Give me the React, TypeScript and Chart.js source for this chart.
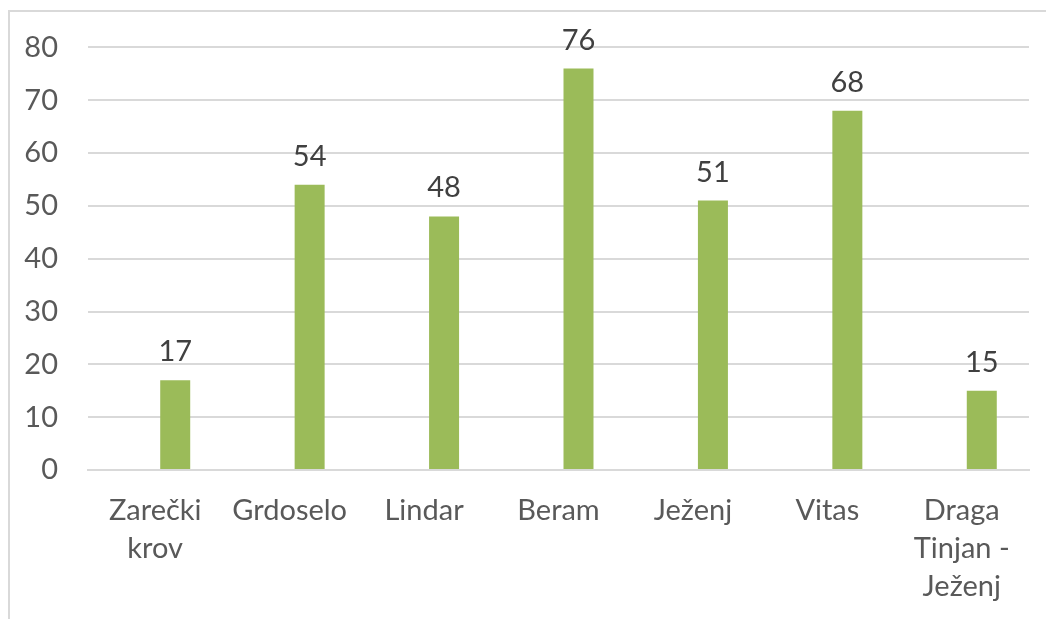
import React, { useEffect, useRef } from "react";
import { Chart, registerables } from "chart.js";

Chart.register(...registerables);

const categories: (string | string[])[] = [
  ["Zarečki", "krov"],
  "Grdoselo",
  "Lindar",
  "Beram",
  "Ježenj",
  "Vitas",
  ["Draga", "Tinjan -", "Ježenj"],
];
const emptySeries: (number | null)[] = [null, null, null, null, null, null, null];
const values: number[] = [17, 54, 48, 76, 51, 68, 15];
const yMin = 0;
const yMax = 80;
const yStep = 10;

const FONT = "Lato, 'Open Sans', sans-serif";
const FS = 29;

const dataLabelPlugin = {
  id: "dataLabels",
  afterDatasetsDraw(chart: any) {
    const ctx = chart.ctx;
    ctx.save();
    ctx.font = `${FS}px ${FONT}`;
    ctx.fillStyle = "#404040";
    ctx.textAlign = "center";
    ctx.textBaseline = "alphabetic";
    chart.data.datasets.forEach((ds: any, di: number) => {
      const meta = chart.getDatasetMeta(di);
      meta.data.forEach((el: any, i: number) => {
        const v = ds.data[i];
        if (v === null || v === undefined) return;
        ctx.fillText(String(v), el.x, el.y - 19);
      });
    });
    ctx.restore();
  },
};

export default function App() {
  const ref = useRef<HTMLCanvasElement>(null);
  useEffect(() => {
    if (!ref.current) return;
    const chart = new Chart(ref.current, {
      type: "bar",
      data: {
        labels: categories,
        datasets: [
          {
            data: emptySeries,
            backgroundColor: "#4F81BD",
            barPercentage: 0.75,
            categoryPercentage: 0.595,
          },
          {
            data: values,
            backgroundColor: "#9BBB59",
            barPercentage: 0.75,
            categoryPercentage: 0.595,
          },
        ],
      },
      options: {
        animation: false,
        responsive: false,
        maintainAspectRatio: false,
        layout: { padding: { left: 0, right: 17, top: 45, bottom: 0 } },
        plugins: {
          legend: { display: false },
          tooltip: { enabled: false },
        },
        scales: {
          x: {
            grid: { display: false, drawTicks: false },
            border: { display: true, color: "#D9D9D9", width: 2 },
            ticks: {
              color: "#595959",
              font: { family: FONT, size: FS, lineHeight: 1.31 },
              padding: 22,
              maxRotation: 0,
              autoSkip: false,
            },
            afterFit: (s: any) => {
              s.height = 149;
            },
          },
          y: {
            min: yMin,
            max: yMax,
            grid: { color: "#D9D9D9", lineWidth: 2, drawTicks: false },
            border: { display: false },
            ticks: {
              stepSize: yStep,
              color: "#595959",
              font: { family: FONT, size: FS },
              padding: 30,
            },
            afterFit: (s: any) => {
              s.width = 88;
            },
          },
        },
      },
      plugins: [dataLabelPlugin],
    });
    return () => chart.destroy();
  }, []);

  return (
    <div
      style={{
        position: "fixed",
        left: 0,
        top: 0,
        width: 1046,
        height: 619,
        overflow: "hidden",
        background: "#fff",
      }}
    >
      <div
        style={{
          position: "absolute",
          left: 8,
          top: 10,
          width: 1200,
          height: 800,
          borderLeft: "2px solid #D9D9D9",
          borderTop: "2px solid #D9D9D9",
        }}
      />
      <canvas
        ref={ref}
        width={1046}
        height={619}
        style={{ position: "absolute", left: 0, top: 0, width: 1046, height: 619 }}
      />
    </div>
  );
}
